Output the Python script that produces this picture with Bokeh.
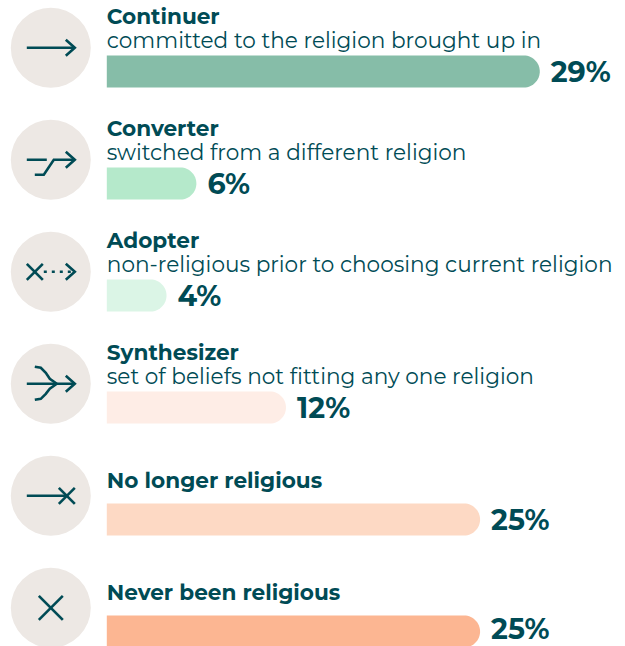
from bokeh.plotting import figure
from bokeh.models import Range1d
from bokeh.core.properties import value
from bokeh.embed import file_html
from bokeh.resources import INLINE
import numpy as np

titles = ["Continuer", "Converter", "Adopter", "Synthesizer", "No longer religious", "Never been religious"]
subtitles = ["committed to the religion brought up in", "switched from a different religion",
             "non-religious prior to choosing current religion", "set of beliefs not fitting any one religion", "", ""]
shares = [29, 6, 4, 12, 25, 25]
colors = ["#86BDA8", "#B5E9CB", "#DBF5E6", "#FEEDE6", "#FDD9C4", "#FCB692"]
INK = "#004B55"
FONT = value("Montserrat, Lato, sans-serif")

W, H = 625, 646
p = figure(width=W, height=H, output_backend="svg", toolbar_location=None,
           x_range=Range1d(0.7, W + 0.7), y_range=Range1d(H + 0.7, 0.7), min_border=0,
           outline_line_color=None, background_fill_color="white", border_fill_color="white")
p.axis.visible = False
p.grid.visible = False

PITCH = 112
UNIT = (540 - 107) / 29.0

def seg(xs, ys, row, w=2.6, dash=None):
    kw = dict(line_color=INK, line_width=w, line_cap="butt", line_join="miter")
    if dash:
        kw["line_dash"] = dash
    p.line(list(xs), [y + row * PITCH for y in ys], **kw)

for i in range(6):
    off = i * PITCH
    p.circle(x=[51], y=[48 + off], radius=40, fill_color="#EDE8E4", line_color=None)
    x0, x1, t, b = 107, 107 + shares[i] * UNIT, 55.7 + off, 87.7 + off
    r = 16
    th = np.linspace(-np.pi / 2, np.pi / 2, 30)
    xs = [x0] + list(x1 - r + r * np.cos(th)) + [x0]
    ys = [t] + list((t + b) / 2 + r * np.sin(th)) + [b]
    p.patch(xs, ys, fill_color=colors[i], line_color=None)
    ty = 16 + off if subtitles[i] else 32 + off
    p.text([107], [ty], text=[titles[i]], text_font=FONT, text_font_style="bold", text_font_size="21.6px",
           text_color=INK, text_baseline="middle", text_align="left")
    if subtitles[i]:
        p.text([107], [40 + off], text=[subtitles[i]], text_font=FONT, text_font_size="21.6px",
               text_color=INK, text_baseline="middle", text_align="left")
    ly = min(72 + off, 628.5)
    p.text([x1 + 11], [ly], text=[f"{shares[i]}%"], text_font=FONT, text_font_style="bold", text_font_size="28.5px",
           text_color=INK, text_baseline="middle", text_align="left")

def head(row, tip=75, cy=48):
    seg([tip - 9, tip, tip - 9], [cy - 8, cy, cy + 8], row)

seg([27, 75], [48, 48], 0); head(0)
seg([27, 47], [48, 48], 1); seg([35, 44, 54, 75], [63, 63, 48, 48], 1); head(1)
seg([27, 43], [40, 56], 2); seg([43, 27], [40, 56], 2)
seg([44, 75], [48, 48], 2, dash="3 5"); head(2)
seg([27, 75], [48, 48], 3); head(3)
seg([35, 41, 46, 50, 57], [31, 32, 37, 43, 48], 3); seg([35, 41, 46, 50, 57], [64, 63, 58, 53, 48], 3)
seg([27, 67], [48, 48], 4); seg([59, 75], [40, 56], 4); seg([75, 59], [40, 56], 4)
seg([39, 63], [36, 60], 5); seg([63, 39], [36, 60], 5)

open("out.html", "w").write(file_html(p, INLINE))
